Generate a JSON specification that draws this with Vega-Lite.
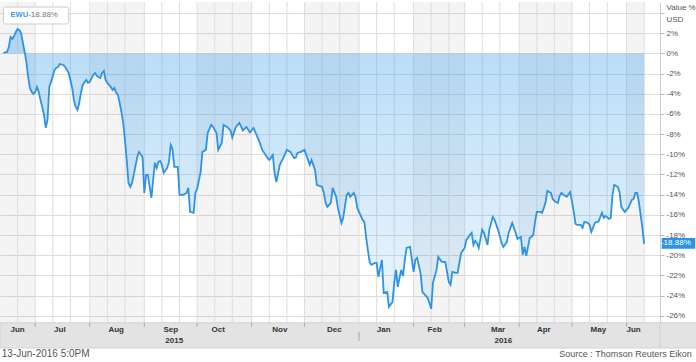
{
  "$schema": "https://vega.github.io/schema/vega-lite/v6.json",
  "width": 660,
  "height": 346,
  "autosize": {"type": "none"},
  "padding": {"left": 0, "top": 2, "right": 36, "bottom": 14},
  "background": "white",
  "config": {"view": {"stroke": null}, "font": "Liberation Sans"},
  "datasets": {
    "ewu": [
      {"d":"2015-06-13","v":0.05},{"d":"2015-06-15","v":0.15},{"d":"2015-06-16","v":0.64},{"d":"2015-06-17","v":1.64},{"d":"2015-06-18","v":1.44},{"d":"2015-06-19","v":1.73},{"d":"2015-06-20","v":2.13},{"d":"2015-06-21","v":2.43},{"d":"2015-06-22","v":2.33},{"d":"2015-06-23","v":2.03},{"d":"2015-06-24","v":1.04},{"d":"2015-06-25","v":0.15},{"d":"2015-06-26","v":-0.84},{"d":"2015-06-27","v":-2.33},{"d":"2015-06-28","v":-3.42},{"d":"2015-06-29","v":-3.82},{"d":"2015-06-30","v":-4.01},
      {"d":"2015-07-01","v":-3.82},{"d":"2015-07-02","v":-3.32},{"d":"2015-07-03","v":-3.82},{"d":"2015-07-04","v":-4.61},{"d":"2015-07-05","v":-5.30},{"d":"2015-07-06","v":-6.09},{"d":"2015-07-07","v":-7.38},{"d":"2015-07-08","v":-6.59},{"d":"2015-07-09","v":-3.32},{"d":"2015-07-10","v":-2.82},{"d":"2015-07-12","v":-1.64},{"d":"2015-07-13","v":-1.44},{"d":"2015-07-14","v":-1.34},{"d":"2015-07-15","v":-1.04},{"d":"2015-07-17","v":-1.14},{"d":"2015-07-18","v":-1.34},{"d":"2015-07-20","v":-1.93},{"d":"2015-07-21","v":-2.63},{"d":"2015-07-22","v":-3.42},{"d":"2015-07-23","v":-4.61},{"d":"2015-07-24","v":-5.30},{"d":"2015-07-25","v":-5.60},{"d":"2015-07-26","v":-4.91},{"d":"2015-07-27","v":-3.91},{"d":"2015-07-28","v":-3.12},{"d":"2015-07-30","v":-2.63},{"d":"2015-07-31","v":-2.92},
      {"d":"2015-08-01","v":-2.82},{"d":"2015-08-03","v":-2.13},{"d":"2015-08-04","v":-1.93},{"d":"2015-08-05","v":-2.23},{"d":"2015-08-07","v":-2.43},{"d":"2015-08-08","v":-1.93},{"d":"2015-08-09","v":-1.73},{"d":"2015-08-10","v":-2.63},{"d":"2015-08-11","v":-2.92},{"d":"2015-08-13","v":-3.32},{"d":"2015-08-14","v":-3.62},{"d":"2015-08-15","v":-3.42},{"d":"2015-08-16","v":-3.91},{"d":"2015-08-17","v":-4.11},{"d":"2015-08-18","v":-4.91},{"d":"2015-08-19","v":-5.80},{"d":"2015-08-20","v":-6.89},{"d":"2015-08-21","v":-8.57},{"d":"2015-08-22","v":-10.56},{"d":"2015-08-23","v":-12.83},{"d":"2015-08-24","v":-13.23},{"d":"2015-08-25","v":-12.83},{"d":"2015-08-26","v":-12.04},{"d":"2015-08-28","v":-10.26},{"d":"2015-08-29","v":-9.76},{"d":"2015-08-31","v":-10.26},
      {"d":"2015-09-01","v":-13.83},{"d":"2015-09-02","v":-12.04},{"d":"2015-09-03","v":-12.04},{"d":"2015-09-05","v":-14.32},{"d":"2015-09-07","v":-10.85},{"d":"2015-09-08","v":-11.35},{"d":"2015-09-09","v":-10.75},{"d":"2015-09-10","v":-10.66},{"d":"2015-09-11","v":-11.05},{"d":"2015-09-12","v":-11.84},{"d":"2015-09-14","v":-11.35},{"d":"2015-09-15","v":-10.75},{"d":"2015-09-16","v":-9.07},{"d":"2015-09-17","v":-9.46},{"d":"2015-09-18","v":-11.25},{"d":"2015-09-20","v":-11.25},{"d":"2015-09-21","v":-14.02},{"d":"2015-09-23","v":-14.02},{"d":"2015-09-25","v":-13.83},{"d":"2015-09-26","v":-13.33},{"d":"2015-09-27","v":-15.71},{"d":"2015-09-29","v":-15.81},{"d":"2015-09-30","v":-13.83},
      {"d":"2015-10-01","v":-13.43},{"d":"2015-10-03","v":-11.74},{"d":"2015-10-04","v":-9.76},{"d":"2015-10-06","v":-9.56},{"d":"2015-10-07","v":-7.88},{"d":"2015-10-09","v":-7.09},{"d":"2015-10-10","v":-7.28},{"d":"2015-10-12","v":-7.88},{"d":"2015-10-13","v":-9.56},{"d":"2015-10-15","v":-8.87},{"d":"2015-10-16","v":-7.09},{"d":"2015-10-18","v":-7.28},{"d":"2015-10-20","v":-7.63},{"d":"2015-10-21","v":-8.33},{"d":"2015-10-23","v":-7.28},{"d":"2015-10-25","v":-6.89},{"d":"2015-10-27","v":-7.63},{"d":"2015-10-29","v":-7.28},{"d":"2015-10-31","v":-7.83},
      {"d":"2015-11-02","v":-7.38},{"d":"2015-11-05","v":-8.57},{"d":"2015-11-07","v":-9.56},{"d":"2015-11-10","v":-10.36},{"d":"2015-11-11","v":-10.56},{"d":"2015-11-13","v":-10.06},{"d":"2015-11-14","v":-11.84},{"d":"2015-11-15","v":-12.74},{"d":"2015-11-17","v":-11.05},{"d":"2015-11-19","v":-10.36},{"d":"2015-11-21","v":-9.56},{"d":"2015-11-23","v":-9.76},{"d":"2015-11-25","v":-10.36},{"d":"2015-11-26","v":-10.36},{"d":"2015-11-27","v":-9.86},{"d":"2015-11-29","v":-9.76},
      {"d":"2015-12-01","v":-9.56},{"d":"2015-12-04","v":-11.05},{"d":"2015-12-05","v":-10.56},{"d":"2015-12-07","v":-11.55},{"d":"2015-12-08","v":-13.03},{"d":"2015-12-11","v":-13.23},{"d":"2015-12-12","v":-13.83},{"d":"2015-12-13","v":-14.82},{"d":"2015-12-14","v":-15.21},{"d":"2015-12-16","v":-14.82},{"d":"2015-12-17","v":-13.33},{"d":"2015-12-19","v":-14.22},{"d":"2015-12-20","v":-15.31},{"d":"2015-12-22","v":-16.80},{"d":"2015-12-23","v":-16.30},{"d":"2015-12-25","v":-14.02},{"d":"2015-12-26","v":-13.83},{"d":"2015-12-27","v":-14.22},{"d":"2015-12-29","v":-13.83},{"d":"2015-12-30","v":-14.22},{"d":"2015-12-31","v":-15.31},
      {"d":"2016-01-03","v":-16.50},{"d":"2016-01-04","v":-16.70},{"d":"2016-01-05","v":-18.19},{"d":"2016-01-06","v":-19.47},{"d":"2016-01-07","v":-20.66},{"d":"2016-01-08","v":-20.96},{"d":"2016-01-10","v":-20.76},{"d":"2016-01-11","v":-20.76},{"d":"2016-01-12","v":-22.15},{"d":"2016-01-14","v":-20.47},{"d":"2016-01-15","v":-23.74},{"d":"2016-01-17","v":-23.64},{"d":"2016-01-18","v":-25.12},{"d":"2016-01-20","v":-24.63},{"d":"2016-01-21","v":-22.74},{"d":"2016-01-22","v":-21.46},{"d":"2016-01-23","v":-23.14},{"d":"2016-01-24","v":-22.25},{"d":"2016-01-25","v":-21.46},{"d":"2016-01-26","v":-22.05},{"d":"2016-01-27","v":-20.47},{"d":"2016-01-28","v":-19.28},{"d":"2016-01-30","v":-19.18},
      {"d":"2016-02-01","v":-21.66},{"d":"2016-02-02","v":-20.47},{"d":"2016-02-03","v":-20.27},{"d":"2016-02-05","v":-21.85},{"d":"2016-02-06","v":-23.64},{"d":"2016-02-09","v":-24.23},{"d":"2016-02-10","v":-24.73},{"d":"2016-02-11","v":-25.32},{"d":"2016-02-12","v":-22.74},{"d":"2016-02-14","v":-21.46},{"d":"2016-02-15","v":-20.17},{"d":"2016-02-17","v":-20.66},{"d":"2016-02-19","v":-20.66},{"d":"2016-02-21","v":-22.64},{"d":"2016-02-22","v":-22.94},{"d":"2016-02-23","v":-21.66},{"d":"2016-02-25","v":-21.75},{"d":"2016-02-26","v":-21.75},{"d":"2016-02-28","v":-19.77},
      {"d":"2016-03-01","v":-19.28},{"d":"2016-03-02","v":-18.48},{"d":"2016-03-04","v":-17.99},{"d":"2016-03-05","v":-17.79},{"d":"2016-03-06","v":-18.98},{"d":"2016-03-07","v":-18.58},{"d":"2016-03-08","v":-18.78},{"d":"2016-03-09","v":-19.28},{"d":"2016-03-11","v":-17.49},{"d":"2016-03-12","v":-17.79},{"d":"2016-03-14","v":-18.98},{"d":"2016-03-15","v":-17.49},{"d":"2016-03-17","v":-16.20},{"d":"2016-03-18","v":-16.50},{"d":"2016-03-20","v":-17.49},{"d":"2016-03-22","v":-18.78},{"d":"2016-03-23","v":-19.18},{"d":"2016-03-25","v":-18.68},{"d":"2016-03-26","v":-17.79},{"d":"2016-03-28","v":-16.80},{"d":"2016-03-29","v":-17.29},{"d":"2016-03-30","v":-17.79},{"d":"2016-03-31","v":-18.38},
      {"d":"2016-04-02","v":-18.19},{"d":"2016-04-03","v":-19.97},{"d":"2016-04-04","v":-19.18},{"d":"2016-04-05","v":-20.07},{"d":"2016-04-06","v":-19.18},{"d":"2016-04-07","v":-18.29},{"d":"2016-04-09","v":-17.99},{"d":"2016-04-10","v":-16.70},{"d":"2016-04-11","v":-15.71},{"d":"2016-04-13","v":-15.71},{"d":"2016-04-14","v":-15.81},{"d":"2016-04-15","v":-15.31},{"d":"2016-04-16","v":-14.72},{"d":"2016-04-17","v":-13.63},{"d":"2016-04-19","v":-13.83},{"d":"2016-04-20","v":-14.42},{"d":"2016-04-21","v":-14.62},{"d":"2016-04-23","v":-14.82},{"d":"2016-04-24","v":-14.12},{"d":"2016-04-25","v":-13.83},{"d":"2016-04-27","v":-14.12},{"d":"2016-04-28","v":-14.22},{"d":"2016-04-30","v":-13.73},
      {"d":"2016-05-02","v":-15.71},{"d":"2016-05-03","v":-16.90},{"d":"2016-05-04","v":-17.00},{"d":"2016-05-06","v":-17.00},{"d":"2016-05-07","v":-17.29},{"d":"2016-05-08","v":-16.70},{"d":"2016-05-10","v":-16.80},{"d":"2016-05-11","v":-17.00},{"d":"2016-05-12","v":-17.69},{"d":"2016-05-14","v":-16.80},{"d":"2016-05-15","v":-16.70},{"d":"2016-05-16","v":-16.70},{"d":"2016-05-18","v":-15.81},{"d":"2016-05-19","v":-16.30},{"d":"2016-05-20","v":-16.10},{"d":"2016-05-22","v":-16.40},{"d":"2016-05-23","v":-16.30},{"d":"2016-05-24","v":-14.02},{"d":"2016-05-25","v":-13.03},{"d":"2016-05-27","v":-13.23},{"d":"2016-05-28","v":-13.73},{"d":"2016-05-29","v":-15.21},{"d":"2016-05-31","v":-15.71},
      {"d":"2016-06-02","v":-15.31},{"d":"2016-06-04","v":-14.52},{"d":"2016-06-05","v":-14.42},{"d":"2016-06-06","v":-13.83},{"d":"2016-06-07","v":-13.83},{"d":"2016-06-08","v":-14.72},{"d":"2016-06-10","v":-17.29},{"d":"2016-06-11","v":-18.88}
    ],
    "bands": [
      {"s":"2015-06-11","e":"2015-07-01"},{"s":"2015-08-01","e":"2015-09-01"},{"s":"2015-10-01","e":"2015-11-01"},{"s":"2015-12-01","e":"2016-01-01"},{"s":"2016-02-01","e":"2016-03-01"},{"s":"2016-04-01","e":"2016-05-01"},{"s":"2016-06-01","e":"2016-06-11"}
    ],
    "vgrid": [
      {"d":"2015-06-21"},{"d":"2015-07-01"},{"d":"2015-07-11"},{"d":"2015-07-21"},{"d":"2015-08-01"},{"d":"2015-08-11"},{"d":"2015-08-21"},{"d":"2015-09-01"},{"d":"2015-09-11"},{"d":"2015-09-21"},{"d":"2015-10-01"},{"d":"2015-10-11"},{"d":"2015-10-21"},{"d":"2015-11-01"},{"d":"2015-11-11"},{"d":"2015-11-21"},{"d":"2015-12-01"},{"d":"2015-12-11"},{"d":"2015-12-21"},{"d":"2016-01-01"},{"d":"2016-01-11"},{"d":"2016-01-21"},{"d":"2016-02-01"},{"d":"2016-02-11"},{"d":"2016-02-21"},{"d":"2016-03-01"},{"d":"2016-03-11"},{"d":"2016-03-21"},{"d":"2016-04-01"},{"d":"2016-04-11"},{"d":"2016-04-21"},{"d":"2016-05-01"},{"d":"2016-05-11"},{"d":"2016-05-21"},{"d":"2016-06-01"},{"d":"2016-06-11"}
    ],
    "mticks": [
      {"d":"2015-07-01"},{"d":"2015-08-01"},{"d":"2015-09-01"},{"d":"2015-10-01"},{"d":"2015-11-01"},{"d":"2015-12-01"},{"d":"2016-02-01"},{"d":"2016-03-01"},{"d":"2016-04-01"},{"d":"2016-05-01"},{"d":"2016-06-01"}
    ],
    "months": [
      {"d":"2015-06-21","m":"Jun"},{"d":"2015-07-15","m":"Jul"},{"d":"2015-08-16","m":"Aug"},{"d":"2015-09-16","m":"Sep"},{"d":"2015-10-13","m":"Oct"},{"d":"2015-11-17","m":"Nov"},{"d":"2015-12-18","m":"Dec"},{"d":"2016-01-15","m":"Jan"},{"d":"2016-02-13","m":"Feb"},{"d":"2016-03-20","m":"Mar"},{"d":"2016-04-15","m":"Apr"},{"d":"2016-05-16","m":"May"},{"d":"2016-06-05","m":"Jun"}
    ],
    "years": [{"d":"2015-09-18","y":"2015"},{"d":"2016-03-23","y":"2016"}]
  },
  "layer": [
    {
      "data": {"name": "bands"},
      "mark": {"type": "rect", "color": "#000000", "opacity": 0.045},
      "encoding": {
        "x": {"field": "s", "type": "temporal", "axis": null, "scale": {"type": "utc", "domain": [{"year":2015,"month":6,"date":11,"utc":true},{"year":2016,"month":6,"date":20,"utc":true}]}},
        "x2": {"field": "e"},
        "y": {"datum": 5.1, "type": "quantitative", "scale": {"domain": [-29.2, 5.1], "nice": false, "zero": false},
          "axis": {"orient": "right", "tickCount": 17, "labelExpr": "(datum.value > 3 || datum.value < -27) ? '' : datum.value + '%'", "grid": true, "gridColor": "#e3dbdb", "domainColor": "#cccccc", "tickColor": "#bbbbbb", "tickSize": 4, "labelPadding": 2, "labelFont": "Liberation Sans", "labelFontSize": 8, "labelColor": "#555555", "labelFlush": false, "labelOverlap": false, "title": ["Value %", "USD"], "titleAngle": 0, "titleAlign": "left", "titleBaseline": "top", "titleX": 6, "titleY": 1, "titleFont": "Liberation Sans", "titleFontSize": 8, "titleFontWeight": "normal", "titleColor": "#555555", "titleLineHeight": 12}},
        "y2": {"datum": -26.7}
      }
    },
    {
      "data": {"name": "vgrid"},
      "mark": {"type": "rule", "color": "#e3dbdb", "strokeWidth": 1},
      "encoding": {
        "x": {"field": "d", "type": "temporal", "axis": null},
        "y": {"datum": 5.1, "type": "quantitative"},
        "y2": {"datum": -26.7}
      }
    },
    {
      "data": {"name": "ewu"},
      "mark": {"type": "area", "line": false, "color": {"gradient": "linear", "x1": 0, "y1": 0, "x2": 0, "y2": 1, "stops": [{"offset": 0, "color": "rgba(70,165,235,0.40)"}, {"offset": 1, "color": "rgba(70,165,235,0.10)"}]}},
      "encoding": {
        "x": {"field": "d", "type": "temporal", "axis": null},
        "y": {"field": "v", "type": "quantitative"},
        "y2": {"datum": 0}
      }
    },
    {
      "data": {"name": "ewu"},
      "mark": {"type": "line", "color": "#2c93e8", "strokeWidth": 1.8},
      "encoding": {
        "x": {"field": "d", "type": "temporal", "axis": null},
        "y": {"field": "v", "type": "quantitative"}
      }
    },
    {
      "data": {"values": [{}]},
      "mark": {"type": "rect", "fill": "#e3e3e3", "stroke": "#d2d2d2", "strokeWidth": 1},
      "encoding": {
        "x": {"datum": {"year":2015,"month":6,"date":11,"utc":true}, "type": "temporal", "axis": null},
        "x2": {"datum": {"year":2016,"month":6,"date":20,"utc":true}},
        "y": {"datum": -26.7, "type": "quantitative"},
        "y2": {"datum": -29.2}
      }
    },
    {
      "data": {"values": [{}]},
      "mark": {"type": "rect", "fill": "#e3e3e3", "stroke": "#d2d2d2", "strokeWidth": 1},
      "encoding": {
        "x": {"datum": {"year":2016,"month":6,"date":20,"utc":true}, "type": "temporal", "axis": null},
        "x2": {"datum": {"year":2016,"month":7,"date":12,"utc":true}},
        "y": {"datum": -26.7, "type": "quantitative"},
        "y2": {"datum": -29.2}
      }
    },
    {
      "data": {"name": "mticks"},
      "mark": {"type": "rule", "color": "#aaaaaa", "strokeWidth": 1},
      "encoding": {
        "x": {"field": "d", "type": "temporal", "axis": null},
        "y": {"datum": -26.7, "type": "quantitative"},
        "y2": {"datum": -27.1}
      }
    },
    {
      "data": {"values": [{}]},
      "mark": {"type": "rule", "color": "#c4c4c4", "strokeWidth": 2},
      "encoding": {
        "x": {"datum": {"year":2016,"month":1,"date":1,"utc":true}, "type": "temporal", "axis": null},
        "y": {"datum": -27.6, "type": "quantitative"},
        "y2": {"datum": -28.5}
      }
    },
    {
      "data": {"name": "months"},
      "mark": {"type": "text", "font": "Liberation Sans", "fontSize": 8, "fontWeight": "bold", "color": "#333333", "baseline": "middle", "align": "center"},
      "encoding": {
        "x": {"field": "d", "type": "temporal", "axis": null},
        "y": {"datum": -27.45, "type": "quantitative"},
        "text": {"field": "m"}
      }
    },
    {
      "data": {"name": "years"},
      "mark": {"type": "text", "font": "Liberation Sans", "fontSize": 8, "fontWeight": "bold", "color": "#333333", "baseline": "middle", "align": "center"},
      "encoding": {
        "x": {"field": "d", "type": "temporal", "axis": null},
        "y": {"datum": -28.55, "type": "quantitative"},
        "text": {"field": "y"}
      }
    },
    {
      "data": {"values": [{}]},
      "mark": {"type": "text", "text": "13-Jun-2016 5:0PM", "font": "Liberation Sans", "fontSize": 10, "color": "#555555", "baseline": "middle", "align": "left"},
      "encoding": {
        "x": {"datum": {"year":2015,"month":6,"date":12,"utc":true}, "type": "temporal", "axis": null},
        "y": {"datum": -29.8, "type": "quantitative"}
      }
    },
    {
      "data": {"values": [{}]},
      "mark": {"type": "text", "text": "Source : Thomson Reuters Eikon", "font": "Liberation Sans", "fontSize": 9, "color": "#555555", "baseline": "middle", "align": "right"},
      "encoding": {
        "x": {"datum": {"year":2016,"month":7,"date":8,"utc":true}, "type": "temporal", "axis": null},
        "y": {"datum": -29.8, "type": "quantitative"}
      }
    },
    {
      "data": {"values": [{}]},
      "mark": {"type": "rect", "fill": "#ffffff", "stroke": "#cccccc", "strokeWidth": 1, "cornerRadius": 2},
      "encoding": {
        "x": {"datum": {"year":2015,"month":6,"date":13,"utc":true}, "type": "temporal", "axis": null},
        "x2": {"datum": {"year":2015,"month":7,"date":20,"utc":true}},
        "y": {"datum": 4.6, "type": "quantitative"},
        "y2": {"datum": 2.92}
      }
    },
    {
      "data": {"values": [{}]},
      "mark": {"type": "text", "text": "EWU", "font": "Liberation Sans", "fontSize": 7.5, "fontWeight": "bold", "color": "#3a9ae8", "baseline": "middle", "align": "left"},
      "encoding": {
        "x": {"datum": {"year":2015,"month":6,"date":17,"utc":true}, "type": "temporal", "axis": null},
        "y": {"datum": 3.77, "type": "quantitative"}
      }
    },
    {
      "data": {"values": [{}]},
      "mark": {"type": "text", "text": "-18.88%", "font": "Liberation Sans", "fontSize": 8, "color": "#777777", "baseline": "middle", "align": "left"},
      "encoding": {
        "x": {"datum": {"year":2015,"month":6,"date":27,"utc":true}, "type": "temporal", "axis": null},
        "y": {"datum": 3.77, "type": "quantitative"}
      }
    },
    {
      "data": {"values": [{}]},
      "mark": {"type": "rect", "fill": "#2c93e8"},
      "encoding": {
        "x": {"datum": {"year":2016,"month":6,"date":21,"utc":true}, "type": "temporal", "axis": null},
        "x2": {"datum": {"year":2016,"month":7,"date":10,"utc":true}},
        "y": {"datum": -18.29, "type": "quantitative"},
        "y2": {"datum": -19.37}
      }
    },
    {
      "data": {"values": [{}]},
      "mark": {"type": "text", "text": "-18.88%", "font": "Liberation Sans", "fontSize": 8, "color": "#ffffff", "baseline": "middle", "align": "center"},
      "encoding": {
        "x": {"datum": {"year":2016,"month":6,"date":29,"utc":true}, "type": "temporal", "axis": null},
        "y": {"datum": -18.84, "type": "quantitative"}
      }
    }
  ]
}
